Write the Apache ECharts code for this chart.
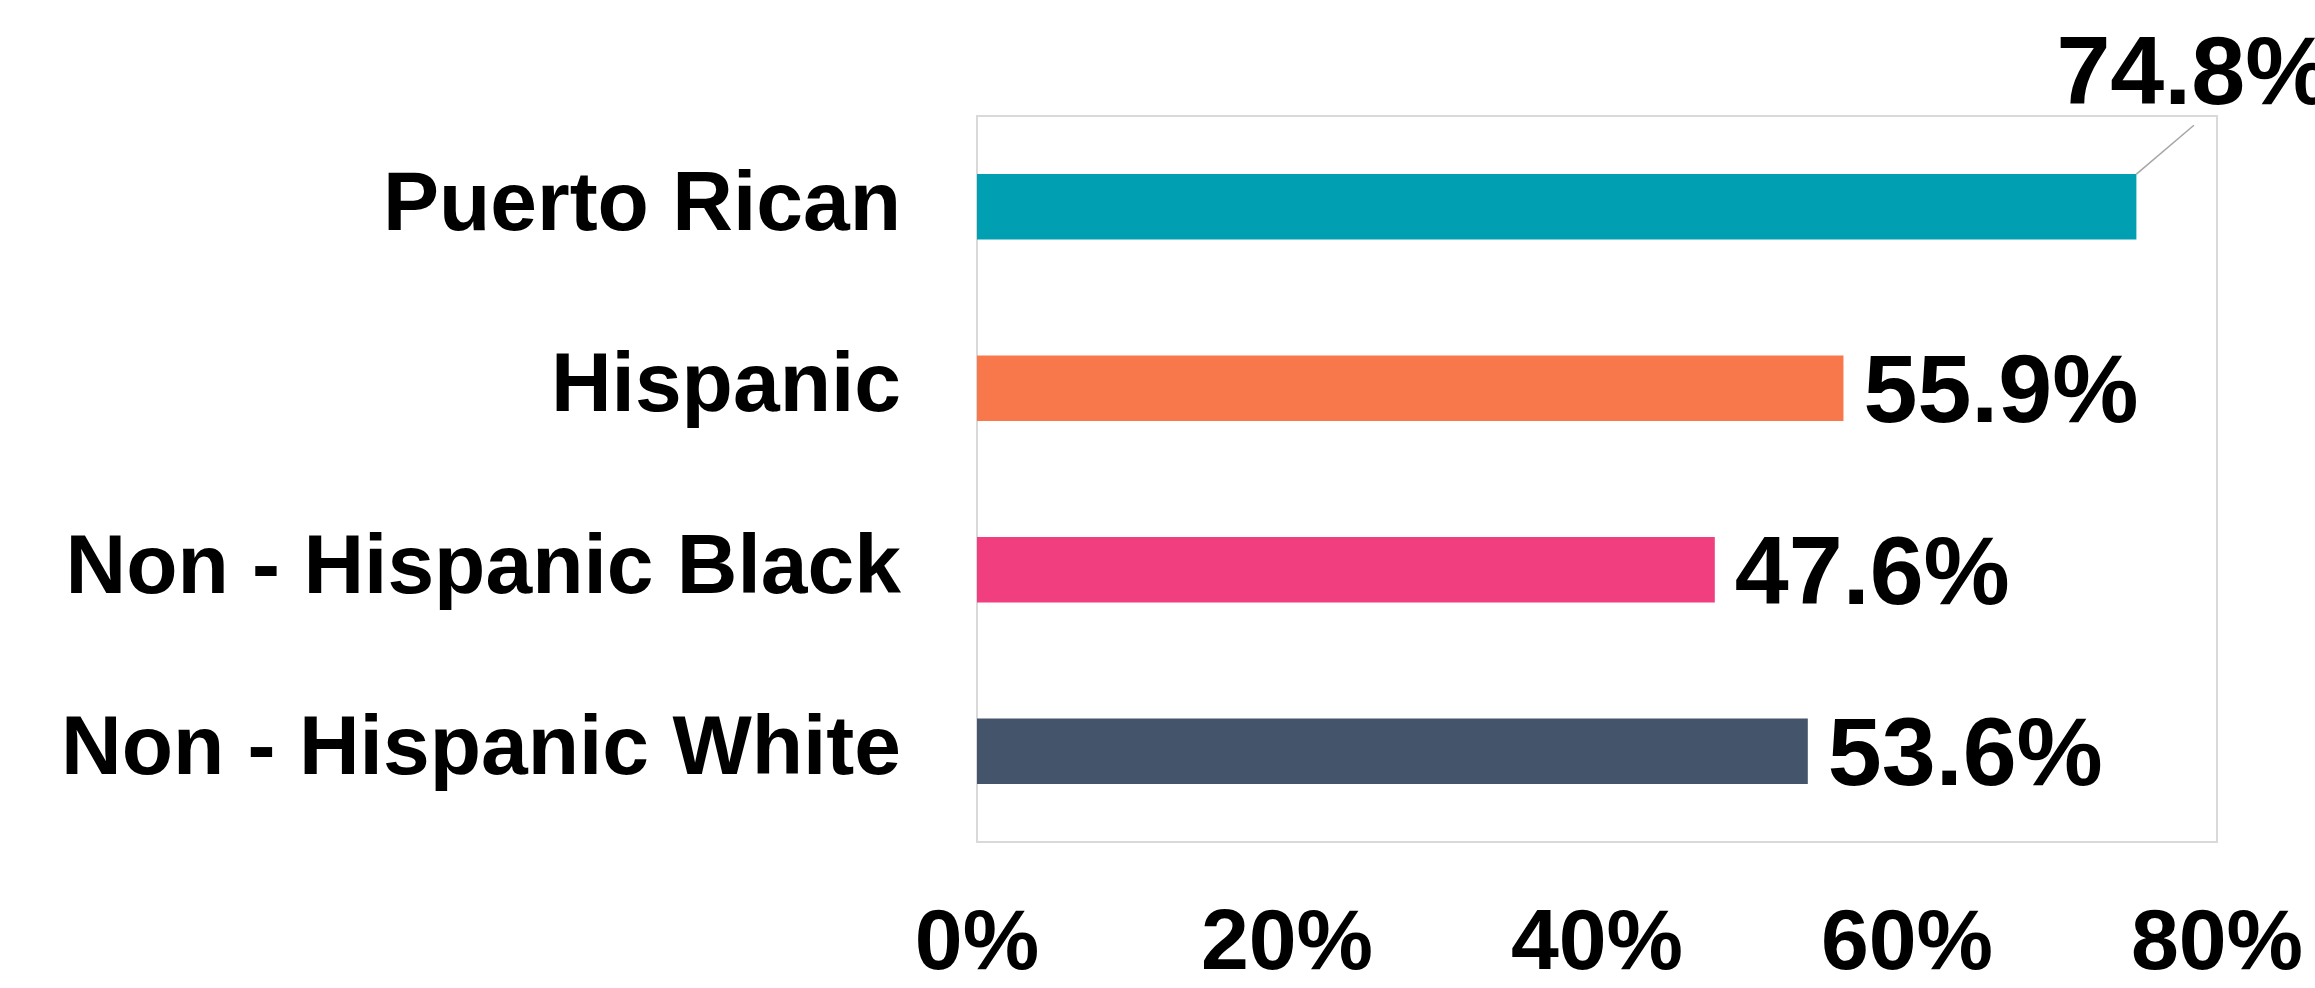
<!DOCTYPE html>
<html>
<head>
<meta charset="utf-8">
<script src="https://cdn.jsdelivr.net/npm/echarts@6/dist/echarts.min.js"></script>
<style>
  html, body { margin: 0; padding: 0; background: #ffffff; }
  #chart { width: 2315px; height: 988px; }
</style>
</head>
<body>
<div id="chart"></div>
<script>
// Groups, top to bottom
const categories = ['Puerto Rican', 'Hispanic', 'Non - Hispanic Black', 'Non - Hispanic White'];
// Share of each group, in percent
const values = [74.8, 55.9, 47.6, 53.6];
// Bar fill per group
const barColors = ['#00A0B2', '#F9784B', '#F03E7E', '#44546A'];
// Value axis ticks
const xTicks = { min: 0, max: 80, interval: 20 };

const FONT = '"Liberation Sans", Arial, Helvetica, sans-serif';

const chart = echarts.init(document.getElementById('chart'), null, { renderer: 'canvas' });

const seriesData = values.map((v, i) => {
  const item = { value: v, itemStyle: { color: barColors[i] } };
  if (i === 0) {
    // the longest bar's label sits above the plot with a leader line
    item.labelLine = { show: true, lineStyle: { color: '#a6a6a6', width: 1.5 } };
  }
  return item;
});

chart.setOption({
  animation: false,
  backgroundColor: '#ffffff',
  grid: {
    left: 977, right: 98, top: 116, bottom: 145,
    show: true, borderColor: '#d9d9d9', borderWidth: 2, backgroundColor: 'transparent'
  },
  xAxis: {
    type: 'value',
    min: xTicks.min, max: xTicks.max, interval: xTicks.interval,
    axisLine: { show: false },
    axisTick: { show: false },
    splitLine: { show: false },
    axisLabel: {
      formatter: '{value}%',
      margin: 60,
      color: '#000000',
      fontFamily: FONT,
      fontWeight: 'bold',
      fontSize: 86
    }
  },
  yAxis: {
    type: 'category',
    inverse: true,
    data: categories,
    axisLine: { show: false },
    axisTick: { show: false },
    splitLine: { show: false },
    axisLabel: {
      margin: 76,
      color: '#000000',
      fontFamily: FONT,
      fontWeight: 'bold',
      fontSize: 84
    }
  },
  series: [{
    type: 'bar',
    data: seriesData,
    barCategoryGap: '64%',
    label: {
      show: true,
      position: 'right',
      distance: 20,
      color: '#000000',
      fontFamily: FONT,
      fontWeight: 'bold',
      fontSize: 97,
      formatter: p => p.value.toFixed(1) + '%'
    },
    labelLayout: function (params) {
      if (params.dataIndex === 0) {
        return { dx: -100, dy: -130 };
      }
      return { dy: 7 };
    }
  }]
});
</script>
</body>
</html>
